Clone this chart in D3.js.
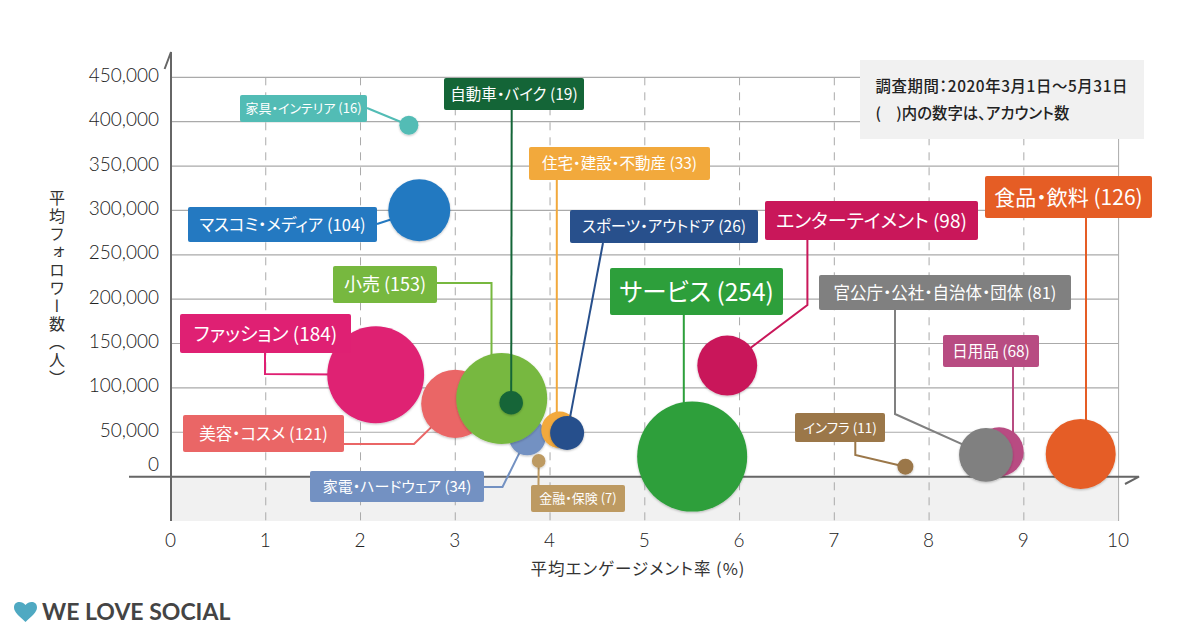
<!DOCTYPE html>
<html>
<head>
<meta charset="utf-8">
<script src="https://cdn.jsdelivr.net/npm/d3@7/dist/d3.min.js"></script>
<style>
  html, body { margin: 0; padding: 0; background: #fff; }
  text { font-family: "Noto Sans CJK JP", sans-serif; font-feature-settings: "palt"; }
  .tick text { font-family: Lato, "Noto Sans", sans-serif; font-weight: 300; fill: #222; }
</style>
</head>
<body>
<svg id="chart" width="1200" height="630"></svg>
<script>
// values, in drawing order (later bubbles sit on top)
var categories = ["家具・インテリア", "マスコミ・メディア", "ファッション", "美容・コスメ", "家電・ハードウェア", "小売",
  "自動車・バイク", "住宅・建設・不動産", "スポーツ・アウトドア", "金融・保険", "サービス", "エンターテイメント",
  "インフラ", "日用品", "官公庁・公社・自治体・団体", "食品・飲料"];
var accounts = [16, 104, 184, 121, 34, 153, 19, 33, 26, 7, 254, 98, 11, 68, 81, 126];
var engagement = [2.51, 2.62, 2.16, 3.0, 3.76, 3.49, 3.59, 4.10, 4.18, 3.88, 5.50, 5.87, 7.75, 8.74, 8.60, 9.60];
var followers = [396000, 300200, 114800, 82000, 44800, 88000, 83200, 52700, 49300, 17700, 22600, 125200, 11200, 27900, 24500, 25600];

var xTicks = [0, 1, 2, 3, 4, 5, 6, 7, 8, 9, 10];
var yTicks = [0, 50000, 100000, 150000, 200000, 250000, 300000, 350000, 400000, 450000];

var colors = ["#52bcb5", "#2479c1", "#df2073", "#ea6666", "#7391c2", "#77b83f", "#146537", "#f2a93c", "#28508c",
  "#bd9a62", "#2d9f3b", "#c9175a", "#9b7749", "#b84c82", "#808080", "#e55d25"];

// callout boxes: [left, top, right, bottom, font size], then the leader's bends up to the bubble
var calloutBoxes = [
  [240, 95, 367, 122, 13], [188, 207, 377, 242, 16.5], [180, 314, 351, 353, 19], [183, 415, 344, 452, 16.5],
  [310, 471, 484, 502, 15], [333, 266, 437, 303, 18], [444, 78, 584, 110, 15.5], [529, 147, 710, 180, 15.5],
  [570, 210, 758, 243, 15.5], [531, 485, 625, 512, 13], [610, 268, 783, 315, 24.5], [765, 201, 978, 240, 19],
  [795, 413, 885, 442, 13.5], [943, 335, 1039, 367, 15.5], [819, 275, 1071, 310, 16.5], [985, 176, 1152, 218, 21]
];
var leaderBends = [
  [[367, 108]], [[377, 224]], [[265, 353], [265, 374]], [[344, 444], [414, 444]],
  [[484, 487], [502.5, 487]], [[437, 283], [491.5, 283], [491.5, 360]], [[511.7, 110]], [[556.8, 180], [556.8, 415]],
  [[603, 243]], [[538.5, 485]], [[683.8, 315], [683.8, 410]], [[807.4, 240], [807.4, 305]],
  [[855.3, 442], [855.3, 455]], [[1013, 367], [1013, 435]], [[895, 310], [895, 414]], [[1086, 218], [1086, 425]]
];

var svg = d3.select("#chart");

var x = d3.scaleLinear().domain([0, 10]).range([171, 1118.6]);
var y = d3.scaleLinear().domain([-50000, 450000]).range([521, 77.3]);
// bubble radius per account count, fitted piecewise against the picture
var r = d3.scaleLinear().domain([7, 16, 26, 104, 126, 153, 254]).range([6.8, 9.5, 17, 31, 35, 45.5, 55]);

var shadow = svg.append("defs").append("filter").attr("id", "shadow")
    .attr("x", "-20%").attr("y", "-20%").attr("width", "140%").attr("height", "140%");
shadow.append("feDropShadow").attr("dx", 0).attr("dy", 1).attr("stdDeviation", 1.2)
    .attr("flood-color", "#000").attr("flood-opacity", 0.25);

// grey band under the zero line
svg.append("rect").attr("x", x(0)).attr("y", y(0))
    .attr("width", x(10) - x(0)).attr("height", y(-50000) - y(0)).attr("fill", "#f1f1f1");

// grid
svg.append("g").selectAll("line").data(yTicks.slice(1)).enter().append("line")
    .attr("x1", x(0)).attr("x2", x(10))
    .attr("y1", function(d) { return y(d); }).attr("y2", function(d) { return y(d); })
    .attr("stroke", "#aaa").attr("stroke-width", 1.2);

svg.append("g").selectAll("line").data(xTicks.slice(1)).enter().append("line")
    .attr("x1", function(d) { return x(d); }).attr("x2", function(d) { return x(d); })
    .attr("y1", y(450000)).attr("y2", y(-50000))
    .attr("stroke", "#aaa").attr("stroke-width", 1)
    .attr("stroke-dasharray", function(d) { return d === 10 ? null : "8,7"; });

// note box
svg.append("rect").attr("x", 860).attr("y", 60).attr("width", 284).attr("height", 79).attr("fill", "#f1f1f1");
svg.append("text").attr("x", 875.5).attr("y", 92).attr("font-size", 15.4).attr("font-weight", 500).attr("fill", "#222")
    .style("letter-spacing", "0.6px")
    .text("調査期間：2020年3月1日〜5月31日");
svg.append("text").attr("x", 875.5).attr("y", 118.5).attr("font-size", 15.4).attr("font-weight", 500).attr("fill", "#222")
    .text("(　)内の数字は、アカウント数");

// tick labels
var xAxis = svg.append("g").attr("transform", "translate(-1,533)")
    .call(d3.axisBottom(x).tickValues(xTicks).tickSize(0).tickPadding(0));
xAxis.select(".domain").remove();
xAxis.selectAll("text").attr("font-size", 19);

var yAxis = svg.append("g").attr("transform", "translate(159,0)")
    .call(d3.axisLeft(y).tickValues(yTicks).tickSize(0).tickPadding(0).tickFormat(d3.format(",")));
yAxis.select(".domain").remove();
yAxis.selectAll("text").attr("font-size", 19)
    .attr("y", function(d) { return d === 0 ? -12.5 : -2; });

// axis lines with their half arrow heads
var axisLine = d3.line();
svg.append("path").attr("d", axisLine([[171, y(-50000)], [171, 52], [164.6, 69]]))
    .attr("fill", "none").attr("stroke", "#666").attr("stroke-width", 2);
svg.append("path").attr("d", axisLine([[129, y(0)], [1139, y(0)], [1125, 484]]))
    .attr("fill", "none").attr("stroke", "#666").attr("stroke-width", 2);

// axis titles
svg.append("text").attr("x", 638).attr("y", 575).attr("text-anchor", "middle")
    .style("letter-spacing", "1px")
    .attr("font-size", 16.5).attr("fill", "#333").text("平均エンゲージメント率 (%)");
svg.append("text").attr("transform", "translate(57,190)")
    .style("writing-mode", "vertical-rl").style("letter-spacing", "2px").style("font-feature-settings", "normal")
    .attr("font-size", 16).attr("fill", "#333").text("平均フォロワー数（人）");

// leaders and bubbles, one category at a time so the overlaps come out right
var groups = svg.append("g").selectAll("g").data(categories).enter().append("g");

groups.append("path")
    .attr("d", function(d, i) {
      return axisLine(leaderBends[i].concat([[x(engagement[i]), y(followers[i])]]));
    })
    .attr("fill", "none").attr("stroke-width", 2)
    .attr("stroke", function(d, i) { return colors[i]; });

groups.append("circle")
    .attr("cx", function(d, i) { return x(engagement[i]); })
    .attr("cy", function(d, i) { return y(followers[i]); })
    .attr("r", function(d, i) { return r(accounts[i]); })
    .attr("fill", function(d, i) { return colors[i]; })
    .attr("filter", "url(#shadow)");

// callouts go on top of everything
var callouts = svg.append("g").selectAll("g").data(categories).enter().append("g");

callouts.append("rect")
    .attr("x", function(d, i) { return calloutBoxes[i][0]; })
    .attr("y", function(d, i) { return calloutBoxes[i][1]; })
    .attr("width", function(d, i) { return calloutBoxes[i][2] - calloutBoxes[i][0]; })
    .attr("height", function(d, i) { return calloutBoxes[i][3] - calloutBoxes[i][1]; })
    .attr("rx", 2)
    .attr("fill", function(d, i) { return colors[i]; });

callouts.append("text")
    .attr("x", function(d, i) { return (calloutBoxes[i][0] + calloutBoxes[i][2]) / 2; })
    .attr("y", function(d, i) { return (calloutBoxes[i][1] + calloutBoxes[i][3]) / 2; })
    .attr("dy", "0.38em")
    .attr("text-anchor", "middle")
    .attr("font-size", function(d, i) { return calloutBoxes[i][4]; })
    .attr("fill", "#fff")
    .text(function(d, i) { return d + " (" + accounts[i] + ")"; });

// logo
svg.append("path")
    .attr("d", "M25.5 622 C19 616 14 612 14 607.5 C14 601 22 600.5 25.5 605 C29 600.5 37 601 37 607.5 C37 612 32 616 25.5 622 Z")
    .attr("fill", "#4fa9c2");
svg.append("text").attr("x", 42).attr("y", 620).attr("font-size", 23)
    .style("font-family", "Lato, sans-serif").attr("font-weight", 700).attr("fill", "#444")
    .text("WE LOVE SOCIAL");
</script>
</body>
</html>
